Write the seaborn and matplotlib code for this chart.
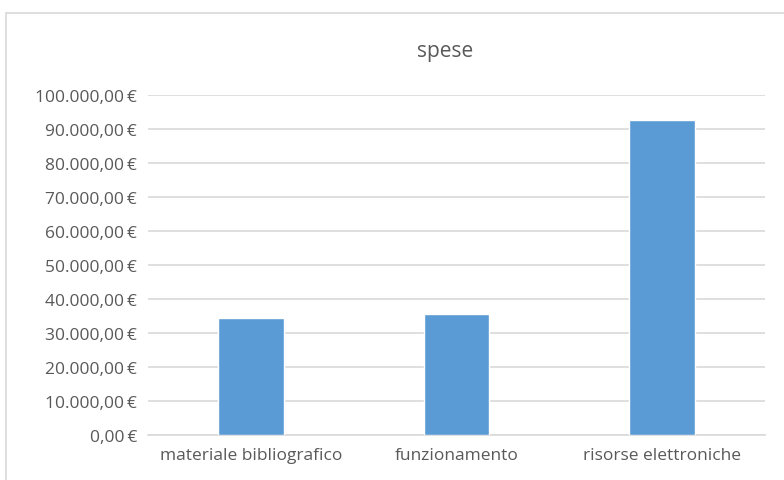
import matplotlib
matplotlib.use("Agg")
import matplotlib.pyplot as plt
import matplotlib.ticker as mticker
from matplotlib.patches import Rectangle
import pandas as pd
import seaborn as sns

categories = ["materiale bibliografico", "funzionamento", "risorse elettroniche"]
spese = [34300, 35600, 92600]
title = "spese"

df = pd.DataFrame({"voce": categories, "spese": spese})

sns.set_style("white")
plt.rcParams["font.family"] = ["Open Sans", "DejaVu Sans"]
text_col = "#595959"

fig = plt.figure(figsize=(7.84, 4.81), dpi=100)
# chart frame (Excel-style border, cropped at right and bottom)
fig.patches.append(Rectangle((6 / 784, -0.05), 1.0, 1 - 14 / 481 + 0.05,
                             transform=fig.transFigure, fill=False,
                             edgecolor="#D9D9D9", linewidth=1.2))

ax = fig.add_axes([148 / 784, 1 - 436 / 481, (765 - 148) / 784, (436 - 96) / 481])
sns.barplot(data=df, x="voce", y="spese", color="#5B9BD5", width=0.32,
            saturation=1, ax=ax, zorder=3)

ax.set_ylim(0, 100000)
ax.yaxis.set_major_locator(mticker.MultipleLocator(10000))


def euro(v, pos):
    s = f"{v:,.2f}".replace(",", "X").replace(".", ",").replace("X", ".")
    return s + "\u2009€"


ax.yaxis.set_major_formatter(mticker.FuncFormatter(euro))
ax.grid(axis="y", color="#D9D9D9", linewidth=1.2, zorder=0)
for side in ["top", "right", "left"]:
    ax.spines[side].set_visible(False)
ax.spines["bottom"].set_color("#D9D9D9")
ax.spines["bottom"].set_linewidth(1.2)
ax.set_xlabel("")
ax.set_ylabel("")
ax.tick_params(axis="both", length=0, colors=text_col, labelsize=12.5)
ax.tick_params(axis="x", pad=9)
ax.tick_params(axis="y", pad=8)

fig.text(445 / 784, 1 - 52 / 481, title, ha="center", va="center",
         fontsize=15, color=text_col)

fig.savefig("out.png", dpi=100)
